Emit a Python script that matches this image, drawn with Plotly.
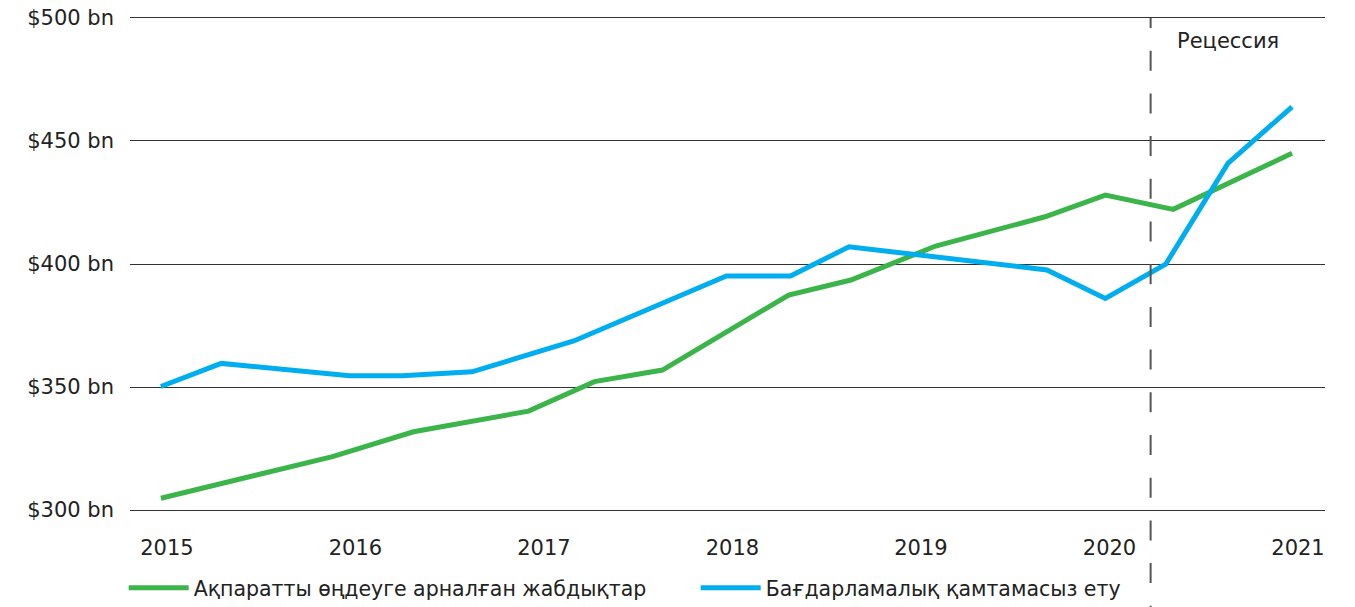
import plotly.graph_objects as go

# Data (x in fractional years)
equip_x = [2015.0, 2015.91, 2016.34, 2016.95, 2017.30, 2017.66, 2018.33, 2018.66,
           2019.11, 2019.69, 2020.01, 2020.37, 2021.0]
equip_y = [304.8, 321.7, 331.8, 340.2, 352.2, 356.9, 387.4, 393.5,
           407.3, 419.2, 428.0, 422.2, 445.0]

soft_x = [2015.0, 2015.32, 2016.0, 2016.28, 2016.65, 2017.19, 2018.0, 2018.34,
          2018.65, 2019.70, 2020.01, 2020.33, 2020.66, 2021.0]
soft_y = [350.2, 359.6, 354.6, 354.6, 356.2, 368.7, 395.1, 395.1,
          407.0, 397.6, 386.0, 399.9, 440.9, 463.9]

series_names = ["Ақпаратты өңдеуге арналған жабдықтар", "Бағдарламалық қамтамасыз ету"]
year_ticks = [2015, 2016, 2017, 2018, 2019, 2020, 2021]
y_ticks = [300, 350, 400, 450, 500]
recession_start = 2020.25
recession_label = "Рецессия"

GREEN = "#3bb54a"
BLUE = "#00aeef"
TEXT = "#222222"
FONT = "DejaVu Sans"

# dash pattern: half dash at the top, then regular 20/22.7 rhythm
dash_pattern = "10px,22.7px" + ",20px,22.7px" * 15

fig = go.Figure()
fig.add_trace(go.Scatter(x=equip_x, y=equip_y, mode="lines", name=series_names[0],
                         line=dict(color=GREEN, width=5)))
fig.add_trace(go.Scatter(x=soft_x, y=soft_y, mode="lines", name=series_names[1],
                         line=dict(color=BLUE, width=5)))

fig.add_shape(type="line", xref="x", yref="paper", x0=recession_start, x1=recession_start,
              y0=0.994, y1=-0.19, line=dict(color="#555555", width=2, dash=dash_pattern))

fig.add_annotation(x=2020.66, y=490.5, xref="x", yref="y", text=recession_label,
                   showarrow=False, font=dict(family=FONT, size=21, color=TEXT))

fig.update_layout(
    width=1355, height=607,
    margin=dict(l=130, r=30, t=15, b=94, autoexpand=False),
    plot_bgcolor="white", paper_bgcolor="white",
    font=dict(family=FONT, size=20, color=TEXT),
    showlegend=True,
    legend=dict(orientation="h", x=-0.0053, xanchor="left",
                y=-0.1506, yanchor="middle",
                entrywidth=497, entrywidthmode="pixels", itemwidth=60,
                font=dict(family=FONT, size=20.5, color=TEXT), bgcolor="rgba(0,0,0,0)"),
)

fig.update_xaxes(range=[2014.836, 2021.175], tickvals=year_ticks,
                 ticktext=[str(y) for y in year_ticks],
                 showgrid=False, zeroline=False, showline=False, ticks="",
                 ticklabelstandoff=20, ticklabelshift=6,
                 tickfont=dict(family=FONT, size=21, color=TEXT))
fig.update_yaxes(range=[298.8, 501.2], tickvals=y_ticks,
                 ticktext=[f"${v} bn" for v in y_ticks],
                 showgrid=True, gridcolor="#333333", gridwidth=1,
                 zeroline=False, showline=False, ticks="",
                 ticklabelstandoff=15, ticklabeloverflow="allow",
                 tickfont=dict(family=FONT, size=21, color=TEXT))

# remove the browser's default body margin so the figure fills the window
fig.write_html("out.html", config={"displayModeBar": False},
               post_script="document.body.style.margin='0';")
